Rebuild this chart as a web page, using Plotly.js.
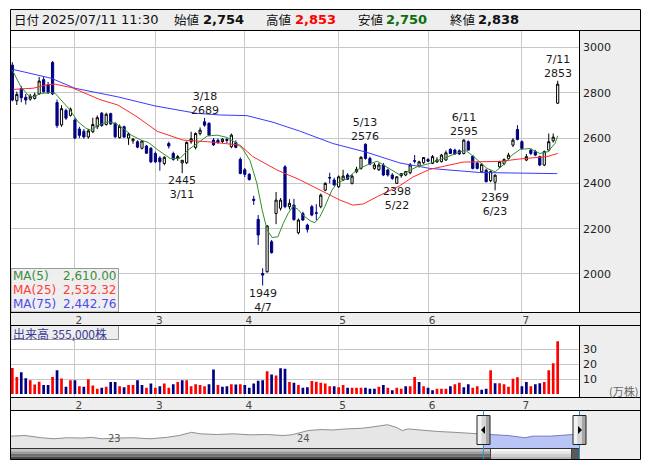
<!DOCTYPE html>
<html><head><meta charset="utf-8">
<script src="https://cdn.plot.ly/plotly-3.0.1.min.js"></script>
<style>html,body{margin:0;padding:0;background:#fff}#chart{width:653px;height:470px}</style>
</head><body><div id="chart"></div>
<script>
// ---------------- DATA ----------------
const monthTicks  = [14, 32, 52, 73, 93, 114];
const monthLabels = ['2', '3', '4', '5', '6', '7'];

const open = [2922,2765,2819,2780,2772,2775,2795,2858,2835,2934, 2757,2658,2722,2700,2680,2640,2630,2605,2628,2650,
  2710,2660,2708,2665,2602,2650,2600,2588,2584,2555, 2565,2555,2532,2512,2488,2576,2532,2510,2490,2491,
  2584,2559,2620,2672,2665,2591,2590,2585,2594,2562, 2580,2506,2460,2440,2330,2241,2002,2010,2142,2267,
  2290,2473,2297,2304,2182,2267,2216,2297,2270,2297, 2370,2426,2415,2385,2415,2437,2400,2451,2466,2573,
  2510,2466,2460,2481,2459,2437,2400,2434,2437,2447, 2500,2476,2491,2505,2488,2495,2496,2503,2550,2547,
  2544,2532,2584,2520,2490,2451,2458,2412,2405,2473, 2487,2510,2569,2638,2584,2503,2547,2540,2518,2481,
  2547,2588,2754];
const high = [2935,2805,2830,2795,2795,2800,2870,2872,2848,2940, 2770,2745,2730,2735,2688,2650,2640,2640,2690,2700,
  2715,2712,2712,2670,2660,2655,2625,2600,2590,2592, 2570,2560,2540,2520,2520,2584,2540,2525,2503,2585,
  2628,2625,2647,2689,2670,2600,2598,2600,2600,2620, 2590,2515,2468,2445,2345,2260,2025,2216,2150,2362,
  2335,2480,2330,2332,2245,2275,2222,2305,2308,2355, 2405,2447,2425,2435,2460,2445,2440,2473,2520,2576,
  2518,2490,2490,2490,2465,2445,2432,2445,2455,2490, 2525,2500,2515,2512,2525,2515,2530,2545,2555,2553,
  2550,2595,2590,2525,2495,2490,2465,2458,2440,2500, 2510,2535,2600,2657,2590,2530,2555,2548,2522,2545,
  2620,2620,2853];
const low = [2762,2746,2758,2748,2765,2770,2790,2800,2795,2790, 2645,2650,2680,2695,2595,2600,2598,2598,2622,2640,
  2650,2655,2660,2600,2598,2600,2570,2575,2555,2550, 2530,2490,2490,2456,2480,2554,2500,2500,2445,2485,
  2575,2550,2612,2650,2610,2565,2575,2578,2578,2555, 2555,2440,2428,2412,2305,2128,1949,2005,2090,2220,
  2280,2290,2285,2235,2175,2235,2183,2255,2238,2290, 2365,2400,2390,2380,2410,2415,2395,2445,2460,2505,
  2480,2460,2455,2432,2430,2415,2398,2425,2432,2440, 2488,2470,2485,2495,2485,2490,2492,2500,2530,2525,
  2525,2528,2545,2462,2462,2445,2405,2405,2369,2468, 2480,2505,2560,2590,2550,2498,2525,2520,2476,2476,
  2540,2580,2750];
const close = [2768,2793,2778,2768,2785,2790,2852,2805,2800,2795, 2655,2730,2688,2728,2600,2612,2605,2632,2660,2690,
  2655,2705,2662,2606,2652,2605,2618,2595,2560,2587, 2533,2495,2495,2495,2515,2565,2506,2518,2502,2581,
  2597,2620,2635,2657,2613,2570,2580,2595,2590,2613, 2559,2444,2440,2417,2325,2172,1995,2212,2094,2326,
  2326,2297,2312,2240,2238,2238,2197,2260,2268,2348, 2400,2424,2393,2429,2432,2418,2432,2462,2515,2510,
  2485,2481,2481,2437,2437,2422,2429,2443,2452,2481, 2498,2495,2514,2498,2518,2503,2525,2535,2532,2530,
  2530,2591,2547,2466,2466,2484,2407,2452,2436,2496, 2505,2525,2591,2594,2554,2518,2532,2525,2481,2540,
  2584,2604,2838];

// volume (万株) and up(1)/down(0) colour flag of each volume bar
const volume = [17.5,11.5,14.6,10.6,9.3,6.4,8.2,6.0,6.0,11.5, 16.0,10.4,4.9,9.3,9.3,5.3,4.9,10.0,5.8,3.5,
  4.2,4.9,8.0,8.0,5.3,4.6,6.0,6.0,9.3,6.0, 4.2,7.1,4.2,5.3,7.1,4.2,6.6,8.0,9.3,9.3,
  5.3,6.6,6.0,5.3,6.6,16.4,6.0,4.9,5.3,6.6, 6.4,6.6,6.0,4.2,7.1,8.9,9.3,15.3,13.1,12.4,
  17.3,16.9,8.0,7.6,6.0,4.2,4.6,8.7,8.2,7.6, 7.1,5.3,5.3,4.6,6.0,4.2,4.2,4.2,4.2,4.2,
  3.5,3.5,4.9,6.0,4.2,2.6,4.2,3.5,5.3,5.3, 11.5,8.0,5.3,4.2,2.6,3.5,3.5,3.5,5.3,6.6,
  7.6,4.6,6.6,4.2,5.3,2.9,3.5,16.0,7.3,7.3, 6.6,4.9,10.2,11.3,5.3,8.0,5.3,6.6,7.3,8.0,
  16.0,20.7,35.5];
const volUp = [1,1,0,0,1,1,1,0,0,1, 0,1,0,1,0,1,0,1,1,1, 0,1,0,0,1,0,1,1,0,0, 1,0,1,0,1,1,0,1,0,1,
  1,1,1,1,0,0,1,0,0,1, 0,1,0,0,0,0,0,1,0,1, 0,0,1,0,1,0,0,1,1,1, 1,1,0,1,1,0,1,1,1,0,
  0,0,1,0,1,0,1,1,0,1, 1,0,1,0,0,1,1,1,0,1, 1,0,0,1,1,0,0,1,0,1, 1,1,1,1,0,0,1,0,0,1, 1,1,1];

// moving averages (x = trading-day index)
const ma5X = [0,1.9,3.5,4.6,6.4,8.7,9.6,11.3,12.9,14.7,16.5,17.6,19.2,21.4,23.0,24.8,26.6,28.8,30.4,32.6,
  35.3,37.5,39.3,41.3,43.6,45.8,48.0,50.3,51.6,53.2,54.7,55.9,57.0,58.1,59.4,60.6,61.7,62.8,63.9,65.0,
  66.6,67.7,68.8,69.9,71.5,72.6,74.9,77.1,79.3,81.6,83.8,86.7,88.3,90.5,93.4,96.4,99.5,101.3,102.8,104.6,
  106.2,108.0,109.8,111.8,113.6,115.8,118.0,119.8,121.4,122];
const ma5Y = [2900,2827,2790,2782,2797,2801,2797,2760,2724,2672,2643,2635,2657,2672,2665,2643,2613,2591,2581,2547,
  2510,2510,2547,2576,2609,2613,2603,2576,2550,2500,2400,2282,2194,2161,2164,2223,2267,2300,2285,2260,
  2235,2226,2253,2297,2370,2400,2422,2459,2481,2498,2473,2437,2451,2473,2488,2510,2532,2547,2525,2496,
  2466,2451,2481,2525,2550,2554,2532,2540,2576,2610];
const ma25X = [0.2,4.6,8.0,9.6,13.4,19.6,23.6,27.9,32.4,38.2,43.6,46.5,50.9,53.8,59.2,64.4,68.8,73.3,76.2,78.5,
  81.6,86.7,89.6,93.4,100.8,109.1,113.6,119.6,122];
const ma25Y = [2815,2820,2836,2838,2822,2770,2746,2694,2630,2591,2584,2577,2569,2518,2459,2415,2370,2326,2304,2309,
  2341,2390,2428,2462,2494,2497,2508,2518,2532];
const ma75X = [0.2,8.7,14.0,23.6,31.9,41.3,46.5,52.5,58.3,64.4,71.7,79.3,86.7,93.4,104.6,113.6,121.9];
const ma75Y = [2903,2864,2820,2782,2742,2709,2702,2699,2670,2630,2576,2537,2490,2466,2448,2446,2443];

// high / low markers
const markIdx  = [43, 38, 56, 79, 86, 101, 108, 122];
const markDate = ['3/18','3/11','4/7','5/13','5/22','6/11','6/23','7/11'];
const markType = ['H','L','L','H','L','H','L','H'];

// navigator (months since mid-2022)
const navX = [0,0.89,1.95,2.73,3.54,4.57,5.12,5.78,6.71,7.75,8.83,9.89,10.67,11.47,12.0,13.06,14.1,15.17,16.23,17.27,
  17.82,18.86,19.68,20.44,21.27,22.32,23.11,23.9,24.44,24.83,25.21,26.03,27.08,28.13,28.93,29.59,29.97];
const navY = [2520,2580,2360,2260,2360,2330,2400,2260,2330,2360,2260,2400,2580,2900,2750,2680,2750,2650,2680,2580,
  2650,3070,3170,3130,3230,3300,3460,3650,3400,3070,3230,3100,2980,2900,2840,2750,2720];
const selX = [29.97,30.54,31.56,32.63,33.14,34.22,35.68,36.06];
const selY = [2720,2650,2580,2360,2520,2520,2650,2720];
const navYears = ['23','24'];
const navYearX = [6, 18];

// header
const hdrDate = '2025/07/11 11:30';
const hdrOpen = '2,754', hdrHigh = '2,853', hdrLow = '2,750', hdrClose = '2,838';
const maNames = ['MA(5)','MA(25)','MA(75)'];
const maValues = ['2,610.00','2,532.32','2,442.76'];
const volLabel = '出来高 355,000株';

// ---------------- PLOT ----------------
const W = 653, H = 470;
const X = v => v / W, Y = v => 1 - v / H;
const idx = open.map((_, i) => i);
const NAVY = '#000080', RED = '#ff0000';
const FONT = 'DejaVu Sans', JP = 'Noto Sans CJK JP';
const maCol = ['#2f8f2f', '#ff2a2a', '#3a3aff'];
const maTxt = ['#3c8c3c', '#ff3c3c', '#4b4bf0'];

const traces = [
  {type:'candlestick', x: idx, open, high, low, close, xaxis:'x', yaxis:'y',
   increasing:{line:{color:'#000', width:1}, fillcolor:'#ffffff'},
   decreasing:{line:{color:NAVY, width:1}, fillcolor:NAVY},
   whiskerwidth:0, hoverinfo:'none', showlegend:false},
  {type:'scatter', mode:'lines', x: ma75X, y: ma75Y, line:{color:maCol[2], width:1}, xaxis:'x', yaxis:'y', hoverinfo:'none'},
  {type:'scatter', mode:'lines', x: ma25X, y: ma25Y, line:{color:maCol[1], width:1}, xaxis:'x', yaxis:'y', hoverinfo:'none'},
  {type:'scatter', mode:'lines', x: ma5X, y: ma5Y, line:{color:maCol[0], width:1}, xaxis:'x', yaxis:'y', hoverinfo:'none'},
  {type:'bar', x: idx, y: volume, width:0.6, marker:{color: volUp.map(u => u ? RED : NAVY), line:{width:0}},
   xaxis:'x2', yaxis:'y2', hoverinfo:'none'},
  {type:'scatter', mode:'lines', x: navX, y: navY, fill:'tozeroy', fillcolor:'#e6e6e6',
   line:{color:'#8f8f8f', width:1}, xaxis:'x3', yaxis:'y3', hoverinfo:'none'},
  {type:'scatter', mode:'lines', x: selX, y: selY, fill:'tozeroy', fillcolor:'#b9c5f5',
   line:{color:'#7878cc', width:1}, xaxis:'x3', yaxis:'y3', hoverinfo:'none'}
];

const xdom = [X(11), X(579)];
const xr = [-0.3, 126.77];
const monthAxis = (anchor) => ({domain: xdom, range: xr, anchor, tickmode:'array', tickvals: monthTicks,
  ticktext: monthLabels, showgrid:true, gridcolor:'#c8c8c8', gridwidth:1, zeroline:false, showline:false,
  ticks:'', ticklabelshift:4, ticklabelstandoff:0, tickfont:{family:FONT, size:10.5, color:'#444'}, fixedrange:true});

const shapes = [];
function rect(x0, y0, x1, y1, fill, line, layer) {
  shapes.push({type:'rect', xref:'paper', yref:'paper', x0:X(x0), x1:X(x1), y0:Y(y1), y1:Y(y0),
    fillcolor: fill || 'rgba(0,0,0,0)', line:{color: line || 'rgba(0,0,0,0)', width: line ? 1 : 0}, layer: layer || 'above'});
}
function line(x0, y0, x1, y1, color) {
  shapes.push({type:'line', xref:'paper', yref:'paper', x0:X(x0), x1:X(x1), y0:Y(y0), y1:Y(y1),
    line:{color: color || '#000', width:1}, layer:'above'});
}
function tri(pts, color) {
  shapes.push({type:'path', xref:'paper', yref:'paper', layer:'above', fillcolor:color, line:{width:0},
    path: 'M' + pts.map(p => X(p[0]) + ',' + Y(p[1])).join(' L') + ' Z'});
}
// gray areas
rect(10.5, 9.5, 640.5, 30.5, '#eeeeee', null, 'below');
rect(579.5, 30.5, 640.5, 312.5, '#eeeeee', null, 'below');
rect(10.5, 312.5, 640.5, 325.5, '#eeeeee', null, 'below');
rect(579.5, 325.5, 640.5, 397.5, '#eeeeee', null, 'below');
rect(10.5, 397.5, 640.5, 410.5, '#eeeeee', null, 'below');
rect(579.5, 410.5, 640.5, 459.5, '#eeeeee', null, 'below');
// legend boxes
rect(11, 268.5, 118.5, 312, 'rgba(238,238,238,0.95)', '#9a9a9a');
rect(11, 325.5, 118.5, 339.5, '#eeeeee', '#9a9a9a');
// frame lines
line(10.5, 30.5, 640.5, 30.5); line(10.5, 312.5, 640.5, 312.5); line(10.5, 325.5, 640.5, 325.5);
line(10.5, 397.5, 640.5, 397.5); line(10.5, 410.5, 640.5, 410.5);
line(579.5, 30.5, 579.5, 312.5); line(579.5, 325.5, 579.5, 397.5);
// scrollbar
const sb = [[448.5,451.2],[451.2,453.9],[453.9,456.6],[456.6,459.5]];
const sbDark = ['#c4c4c4','#9c9c9c','#707070','#4a4a4a'];
const sbLight = ['#f7f7f7','#e6e6e6','#d0d0d0','#b6b6b6'];
sb.forEach((b, k) => { rect(10.5, b[0], 490.5, b[1], sbDark[k]); rect(490.5, b[0], 571.5, b[1], sbLight[k]); });
rect(571.5, 448.5, 579.5, 459.5, '#5a5a5a');
rect(490.5, 448.5, 571.5, 459.5, null, '#444');
line(10.5, 448.5, 579.5, 448.5, '#333');
// cyan selection lines
line(483.5, 410.5, 483.5, 459.5, '#1aa0d0'); line(579.5, 410.5, 579.5, 459.5, '#1aa0d0');
// handles
[[477, 'L'], [573, 'R']].forEach(([hx, dir]) => {
  rect(hx, 415.5, hx + 4.5, 444.5, '#f2f2f2'); rect(hx + 4.5, 415.5, hx + 9, 444.5, '#d6d6d6');
  rect(hx + 9, 415.5, hx + 13, 444.5, '#a6a6a6'); rect(hx, 415.5, hx + 13, 444.5, null, '#222');
  const cx = hx + 6.5;
  if (dir === 'L') tri([[cx - 2.5, 430], [cx + 1.5, 426], [cx + 1.5, 434]], '#000');
  else tri([[cx + 2.5, 430], [cx - 1.5, 426], [cx - 1.5, 434]], '#000');
});
// outer frame
rect(10.5, 9.5, 640.5, 459.5, null, '#000');

const ann = [];
function txt(x, y, text, o) {
  ann.push(Object.assign({xref:'paper', yref:'paper', x:X(x), y:Y(y), text, showarrow:false,
    xanchor:'left', yanchor:'middle', font:{family:FONT, size:12, color:'#111'}}, o || {}));
}
// header
txt(12, 20, '日付', {font:{family:JP, size:12.5, color:'#111'}});
txt(40, 20, hdrDate, {font:{family:FONT, size:13, color:'#111'}});
txt(172, 20, '始値', {font:{family:JP, size:12.5, color:'#111'}});
txt(201, 20, '<b>' + hdrOpen + '</b>', {font:{family:FONT, size:13, color:'#111'}});
txt(264, 20, '高値', {font:{family:JP, size:12.5, color:'#111'}});
txt(293, 20, '<b>' + hdrHigh + '</b>', {font:{family:FONT, size:13, color:RED}});
txt(356, 20, '安値', {font:{family:JP, size:12.5, color:'#111'}});
txt(384, 20, '<b>' + hdrLow + '</b>', {font:{family:FONT, size:13, color:'#0a6e0a'}});
txt(448, 20, '終値', {font:{family:JP, size:12.5, color:'#111'}});
txt(476, 20, '<b>' + hdrClose + '</b>', {font:{family:FONT, size:13, color:'#111'}});
// MA legend
maNames.forEach((n, k) => {
  txt(11, 276 + 14 * k, n, {font:{family:FONT, size:12, color:maTxt[k]}});
  txt(118, 276 + 14 * k, maValues[k], {xanchor:'right', font:{family:FONT, size:12, color:maTxt[k]}});
});
// volume legend
txt(11, 333.5, volLabel, {font:{family:JP, size:12, color:'#3c3c96'}});
txt(623, 391, '(万株)', {xanchor:'center', font:{family:JP, size:11, color:'#666'}});
// high / low markers
markIdx.forEach((i, k) => {
  const isH = markType[k] === 'H';
  ann.push({xref:'x', yref:'y', x:i, y: isH ? high[i] : low[i], showarrow:false,
    text: isH ? markDate[k] + '<br>' + high[i] : low[i] + '<br>' + markDate[k],
    xanchor:'center', yanchor: isH ? 'bottom' : 'top', borderpad:0,
    font:{family:FONT, size:11, color:'#1a1a1a'}});
});
// navigator year labels
navYears.forEach((t, k) => ann.push({xref:'x3', yref:'paper', x:navYearX[k], y:Y(438), text:t, showarrow:false,
  xanchor:'left', yanchor:'middle', font:{family:FONT, size:10, color:'#555'}}));

const layout = {
  width: W, height: H, autosize:false, margin:{l:0, r:0, t:0, b:0, pad:0},
  paper_bgcolor:'#ffffff', plot_bgcolor:'#ffffff', showlegend:false, font:{family:FONT},
  xaxis: Object.assign(monthAxis('y'), {rangeslider:{visible:false}}),
  yaxis: {domain:[Y(312), Y(30.5)], range:[1832, 3075], anchor:'x', side:'right', tickmode:'array',
    tickvals:[2000,2200,2400,2600,2800,3000], showgrid:true, gridcolor:'#c8c8c8', zeroline:false, showline:false,
    ticks:'', ticklabelstandoff:3, tickfont:{family:FONT, size:11, color:'#222'}, fixedrange:true},
  xaxis2: monthAxis('y2'),
  yaxis2: {domain:[Y(397), Y(325.5)], range:[-2, 46], anchor:'x2', side:'right', tickmode:'array',
    tickvals:[10,20,30], showgrid:true, gridcolor:'#c8c8c8', zeroline:false, showline:false,
    ticks:'', ticklabelstandoff:3, tickfont:{family:FONT, size:11, color:'#222'}, fixedrange:true},
  xaxis3: {domain: xdom, range:[0, 36.06], anchor:'y3', visible:false, fixedrange:true},
  yaxis3: {domain:[Y(448.5), Y(410.5)], range:[1300, 5050], anchor:'x3', visible:false, fixedrange:true},
  shapes, annotations: ann
};
Plotly.newPlot('chart', traces, layout, {staticPlot:true, displayModeBar:false});
</script></body></html>
